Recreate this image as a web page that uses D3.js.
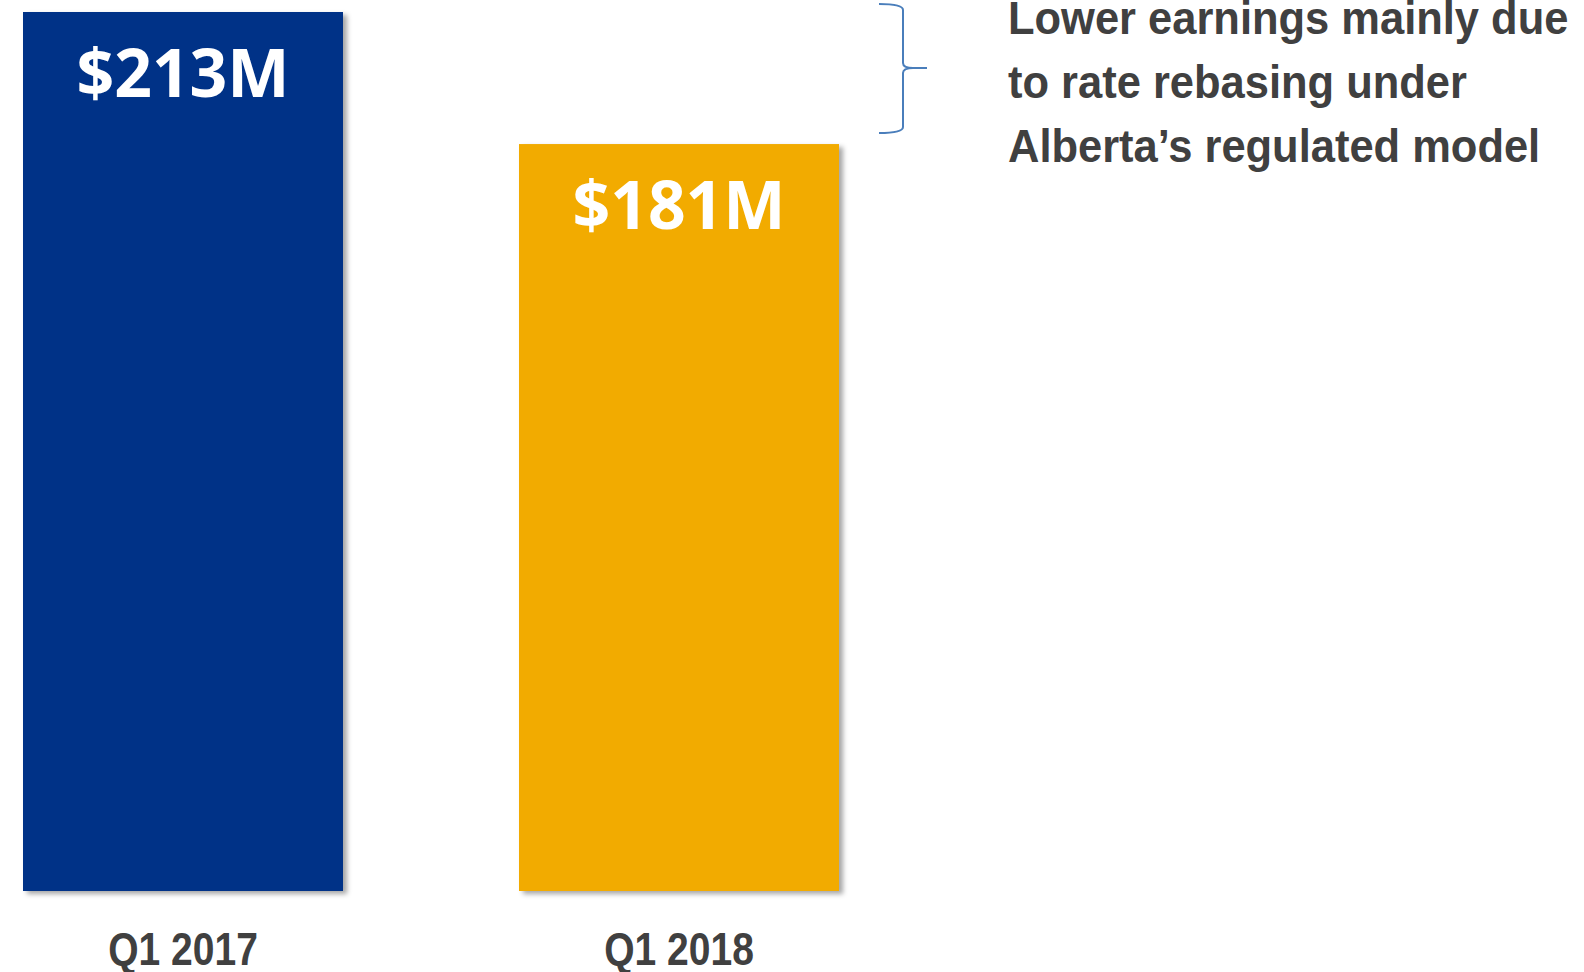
<!DOCTYPE html>
<html lang="en">
  <head>
    <meta charset="utf-8">
    <style>
      body { margin: 0; background: #fff; }
    </style>
  </head>
  <body>
    <script src="https://d3js.org/d3.v7.min.js"></script>
    <script>
      // data
      var categories = ["Q1 2017", "Q1 2018"];
      var values = [213, 181];
      var valueLabels = ["$213M", "$181M"];
      var barColors = ["#023087", "#F2AB00"];
      var noteLines = [
        "Lower earnings mainly due",
        "to rate rebasing under",
        "Alberta\u2019s regulated model"
      ];

      var width = 1584,
        height = 972;
      // no narrow font installed, so squeeze the bold sans
      var axisNarrow = 0.83,
        noteNarrow = 0.945;

      var svg = d3.select("body")
        .append("svg")
        .attr("width", width)
        .attr("height", height);

      // soft shadow to the lower right of each bar
      var filter = svg.append("defs").append("filter")
        .attr("id", "shadow")
        .attr("x", "-5%").attr("y", "-5%")
        .attr("width", "115%").attr("height", "115%");
      filter.append("feDropShadow")
        .attr("dx", 4).attr("dy", 3)
        .attr("stdDeviation", 2.5)
        .attr("flood-color", "#000")
        .attr("flood-opacity", 0.35);

      var x = d3.scaleBand()
        .domain(categories)
        .range([23, 839])
        .paddingInner(176 / 496)
        .paddingOuter(0);

      var y = d3.scaleLinear()
        .domain([0, 213])
        .range([891, 12]);

      var data = categories.map(function (c, i) {
        return { cat: c, value: values[i], label: valueLabels[i], color: barColors[i] };
      });

      svg.selectAll("rect.bar")
        .data(data)
        .join("rect")
        .attr("class", "bar")
        .attr("x", function (d) { return x(d.cat); })
        .attr("y", function (d) { return y(d.value); })
        .attr("width", x.bandwidth())
        .attr("height", function (d) { return y(0) - y(d.value); })
        .attr("fill", function (d) { return d.color; })
        .attr("filter", "url(#shadow)");

      // value labels inside the top of the bars
      svg.selectAll("text.value")
        .data(data)
        .join("text")
        .attr("class", "value")
        .attr("x", function (d) { return x(d.cat) + x.bandwidth() / 2; })
        .attr("y", function (d) { return y(d.value) + 85; })
        .attr("text-anchor", "middle")
        .attr("fill", "#fff")
        .attr("font-family", "'Open Sans', 'Noto Sans', sans-serif")
        .attr("font-weight", "bold")
        .attr("font-size", 66)
        .text(function (d) { return d.label; });

      // category axis, no line or ticks
      var xAxis = svg.append("g")
        .attr("transform", "translate(0," + y(0) + ")")
        .call(d3.axisBottom(x).tickSize(0).tickPadding(41));
      xAxis.select(".domain").remove();
      xAxis.selectAll("text")
        .attr("fill", "#404040")
        .attr("font-family", "'Liberation Sans', Arial, sans-serif")
        .attr("font-weight", "bold")
        .attr("font-size", 47)
        .attr("transform", "scale(" + axisNarrow + ",1)");

      // brace between the bar tops
      var bx = 879, vx = 903, tip = 927, by0 = 4, by1 = 133, bmid = 68;
      svg.append("path")
        .attr("d",
          "M" + bx + "," + by0 +
          " Q" + vx + "," + by0 + " " + vx + "," + (by0 + 6) +
          " L" + vx + "," + (bmid - 5) +
          " Q" + vx + "," + bmid + " " + (vx + 10) + "," + bmid +
          " L" + tip + "," + bmid +
          " M" + (vx + 10) + "," + bmid +
          " Q" + vx + "," + bmid + " " + vx + "," + (bmid + 5) +
          " L" + vx + "," + (by1 - 6) +
          " Q" + vx + "," + by1 + " " + bx + "," + by1)
        .attr("fill", "none")
        .attr("stroke", "#4A7EBB")
        .attr("stroke-width", 2);

      // note text
      svg.append("g")
        .attr("transform", "translate(1008,0) scale(" + noteNarrow + ",1)")
        .selectAll("text")
        .data(noteLines)
        .join("text")
        .attr("x", 0)
        .attr("y", function (d, i) { return 34 + i * 64; })
        .attr("fill", "#404040")
        .attr("font-family", "'Liberation Sans', Arial, sans-serif")
        .attr("font-weight", "bold")
        .attr("font-size", 46)
        .text(function (d) { return d; });
    </script>
  </body>
</html>
